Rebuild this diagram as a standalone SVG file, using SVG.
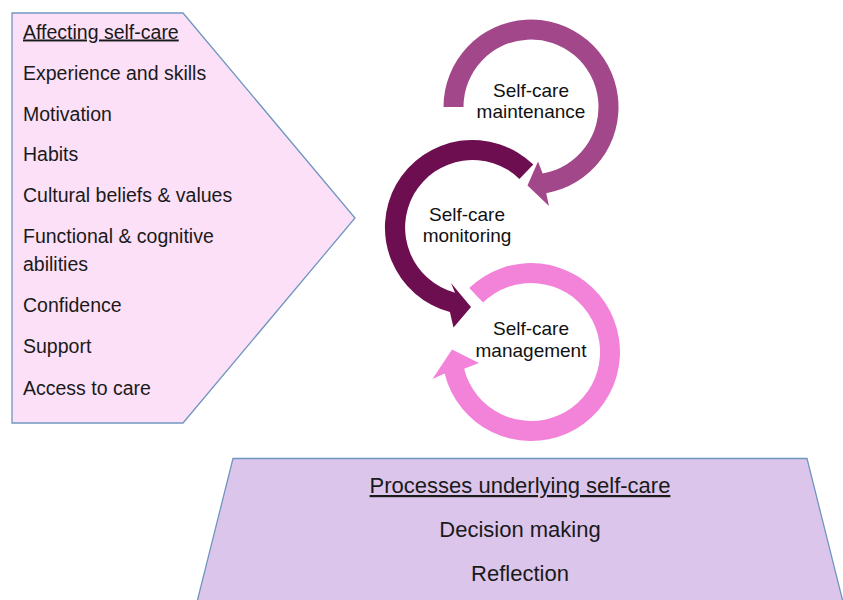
<svg xmlns="http://www.w3.org/2000/svg" width="843" height="600" viewBox="0 0 843 600">
<style>
.lt{font-family:"Liberation Sans",Arial,sans-serif;font-size:19.5px;fill:#1a1a1a}
.bt{font-family:"Liberation Sans",Arial,sans-serif;font-size:22px;fill:#1a1a1a;text-anchor:middle}
.ct{font-family:"Liberation Sans",Arial,sans-serif;font-size:19px;fill:#111;text-anchor:middle}
.u{text-decoration:underline}
.box{stroke:#7096c0;stroke-width:1.3}
</style>
<rect width="843" height="600" fill="#ffffff"/>
<g id="factors">
<polygon class="box" points="12,13 183,13 355,218 183,423 12,423" fill="#fce0f7"/>
<text class="lt u" x="23" y="38.5">Affecting self-care</text>
<text class="lt" x="23" y="80">Experience and skills</text>
<text class="lt" x="23" y="121">Motivation</text>
<text class="lt" x="23" y="161">Habits</text>
<text class="lt" x="23" y="202">Cultural beliefs &amp; values</text>
<text class="lt" x="23" y="243">Functional &amp; cognitive</text>
<text class="lt" x="23" y="270.5">abilities</text>
<text class="lt" x="23" y="312">Confidence</text>
<text class="lt" x="23" y="353">Support</text>
<text class="lt" x="23" y="395">Access to care</text>
</g>
<g id="processes">
<polygon class="box" points="233,458.5 807,458.5 843,602 197,602" fill="#dcc5ea"/>
<text class="bt u" x="520" y="493">Processes underlying self-care</text>
<text class="bt" x="520" y="537">Decision making</text>
<text class="bt" x="520" y="581">Reflection</text>
</g>
<g id="connectors">
<path id="arrow-maintenance" fill="#a3478b" d="M443.5,107 A87.5,87.5 0 1 1 546.2,193.2 L549,206 L527.5,185.5 L538,161.5 L542.7,173.5 A67.5,67.5 0 1 0 463.5,107 Z"/>
<path id="arrow-management" fill="#f283d9" d="M469.2,288 A89,89 0 1 1 444.6,373.5 L432.5,379 L452,349.5 L479,363 L464.1,368.7 A69,69 0 1 0 483.1,302.4 Z"/>
<path id="arrow-monitoring" fill="#6d0e50" d="M533.3,164.6 A87.5,87.5 0 1 0 449.9,312 L453.5,327.5 L471,307 L451,283 L455,292.7 A67.5,67.5 0 1 1 519.4,178.9 Z"/>
</g>
<g id="maintenance">
<text class="ct" x="531" y="96.5">Self-care</text>
<text class="ct" x="531" y="118">maintenance</text>
</g>
<g id="monitoring">
<text class="ct" x="467" y="220.5">Self-care</text>
<text class="ct" x="467" y="242">monitoring</text>
</g>
<g id="management">
<text class="ct" x="531" y="335">Self-care</text>
<text class="ct" x="531" y="356.5">management</text>
</g>
</svg>
